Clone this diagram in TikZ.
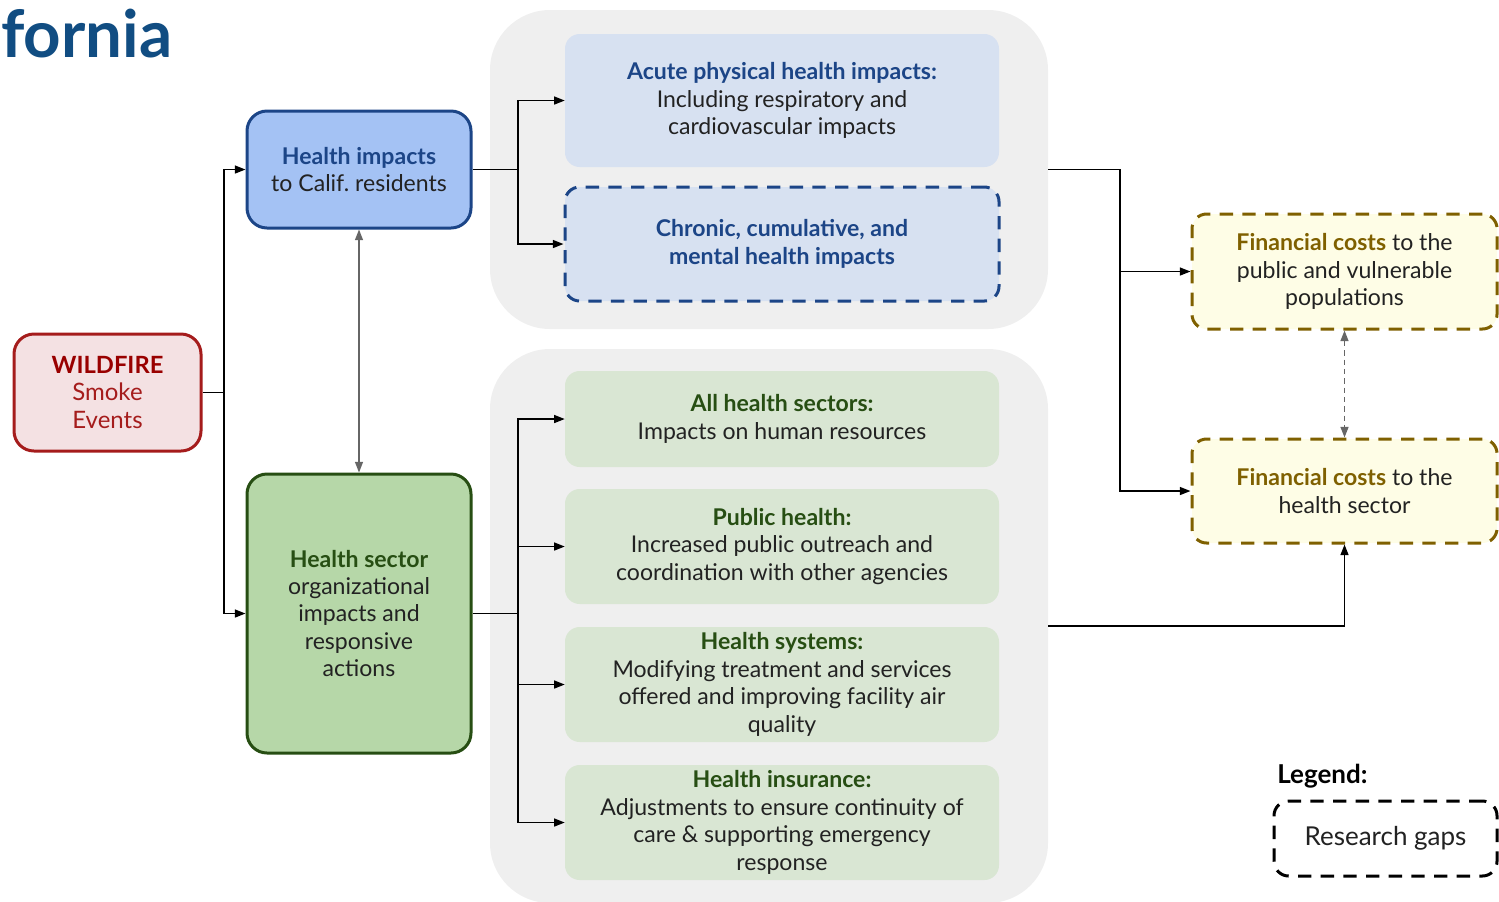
\documentclass[tikz,border=0pt]{standalone}
\usepackage{fontspec}
\setmainfont{Lato}
\usetikzlibrary{arrows.meta}

\definecolor{titleblue}{HTML}{114D82}
\definecolor{wffill}{HTML}{F4E1E3}
\definecolor{wfline}{HTML}{A51C1C}
\definecolor{wfdark}{HTML}{990000}
\definecolor{blfill}{HTML}{A4C2F4}
\definecolor{blline}{HTML}{1C4587}
\definecolor{blsoft}{HTML}{D7E1F1}
\definecolor{grfill}{HTML}{B6D7A8}
\definecolor{grline}{HTML}{274E13}
\definecolor{grsoft}{HTML}{D9E6D3}
\definecolor{yefill}{HTML}{FEFDE6}
\definecolor{yeline}{HTML}{7F6000}
\definecolor{groupbg}{HTML}{EFEFEF}
\definecolor{bodytext}{HTML}{222222}
\definecolor{twoway}{HTML}{666666}

\begin{document}
\begin{tikzpicture}[x=0.75pt,y=-0.75pt,
  every node/.style={inner sep=0pt},
  box/.style={rounded corners=11pt, align=center, text=bodytext,
    font=\fontsize{17.3}{20.6}\selectfont},
  mainbox/.style={box, rounded corners=15pt, line width=2.25pt},
  gapbox/.style={line width=2.25pt, dash pattern=on 10pt off 7pt},
  group/.style={fill=groupbg, rounded corners=45pt},
  link/.style={line width=1.1pt, -{Triangle[length=8pt,width=6pt]}},
  twolink/.style={line width=1pt, draw=twoway,
    {Triangle[length=8pt,width=6pt]}-{Triangle[length=8pt,width=6pt]}}]

\useasboundingbox (0,0) rectangle (1499,901);
\clip (0,0) rectangle (1499,901);

% title fragment
\node[anchor=base west, text=titleblue,
  font=\fontsize{49}{49}\selectfont\bfseries] (title) at (1,57) {fornia};

% grey groups behind the outcome boxes
\node[group, minimum width=418.5pt, minimum height=239.25pt] (gtop) at (769,169.5) {};
\node[group, minimum width=418.5pt, minimum height=415.5pt] (gbot) at (769,626) {};

% source
\node[mainbox, draw=wfline, fill=wffill, minimum width=140.25pt, minimum height=87.75pt]
  (wild) at (107.5,392.5)
  {{\fontsize{17.8}{20.6}\selectfont\bfseries\color{wfdark}WILDFIRE}\\
   {\fontsize{18}{20.6}\selectfont\color{wfline}Smoke}\\{\fontsize{18}{20.6}\selectfont\color{wfline}Events}};

% first-order impacts
\node[mainbox, draw=blline, fill=blfill, minimum width=168pt, minimum height=87.75pt]
  (himp) at (359,169.5)
  {{\bfseries\color{blline}Health impacts}\\to Calif.\ residents};
\node[mainbox, draw=grline, fill=grfill, minimum width=168pt, minimum height=209.25pt]
  (hsec) at (359,613.5)
  {{\bfseries\color{grline}Health sector}\\organizational\\impacts and\\responsive\\actions};

% health impact detail
\node[box, fill=blsoft, minimum width=325.5pt, minimum height=99.75pt]
  (acute) at (782,100.5)
  {{\bfseries\color{blline}Acute physical health impacts:}\\Including respiratory and\\cardiovascular impacts};
\node[box, gapbox, draw=blline, fill=blsoft, minimum width=325.5pt, minimum height=85.5pt]
  (chronic) at (782,244)
  {\bfseries\color{blline}Chronic, cumulative, and\\\bfseries\color{blline}mental health impacts};

% health sector detail
\node[box, fill=grsoft, minimum width=325.5pt, minimum height=72pt]
  (allhs) at (782,419)
  {{\bfseries\color{grline}All health sectors:}\\Impacts on human resources};
\node[box, fill=grsoft, minimum width=325.5pt, minimum height=86.25pt]
  (pubh) at (782,546.5)
  {{\bfseries\color{grline}Public health:}\\Increased public outreach and\\coordination with other agencies};
\node[box, fill=grsoft, minimum width=325.5pt, minimum height=86.25pt]
  (hsys) at (782,684.5)
  {{\bfseries\color{grline}Health systems:}\\Modifying treatment and services\\offered and improving facility air\\quality};
\node[box, fill=grsoft, minimum width=325.5pt, minimum height=86.25pt]
  (hins) at (782,822.5)
  {{\bfseries\color{grline}Health insurance:}\\Adjustments to ensure continuity of\\care \& supporting emergency\\response};

% financial costs
\node[box, gapbox, draw=yeline, fill=yefill, minimum width=228.75pt, minimum height=86.25pt]
  (fin1) at (1344.5,271.5)
  {{\bfseries\color{yeline}Financial costs} to the\\public and vulnerable\\populations};
\node[box, gapbox, draw=yeline, fill=yefill, minimum width=228.75pt, minimum height=78pt]
  (fin2) at (1344.5,491)
  {{\bfseries\color{yeline}Financial costs} to the\\health sector};

% legend
\node[anchor=west, font=\fontsize{19.5}{20}\selectfont\bfseries] (legtitle) at (1277,776) {Legend:};
\node[box, gapbox, draw=black, fill=white, minimum width=167.25pt, minimum height=56.25pt,
  font=\fontsize{19.5}{20}\selectfont] (leggap) at (1385.5,838.5) {Research gaps};

% connectors
\coordinate (wj) at (224,392.5);
\draw[link] (wild.east) -- (wj) |- (himp.west);
\draw[link] (wj) |- (hsec.west);

\coordinate (hj) at (518,169.5);
\draw[link] (himp.east) -- (hj) |- (acute.west);
\draw[link] (hj) |- (chronic.west);

\coordinate (sj) at (518,613.5);
\draw[line width=1.1pt] (hsec.east) -- (sj);
\draw[link] (sj) |- (allhs.west);
\draw[link] (sj) |- (pubh.west);
\draw[link] (sj) |- (hsys.west);
\draw[link] (sj) |- (hins.west);

\coordinate (tj) at (1120,169.5);
\draw[link] (gtop.east) -- (tj) |- (fin1.west);
\draw[link] (tj) |- (fin2.west);
\draw[link] (gbot.east) -| (fin2.south);

\draw[twolink] (himp.south) -- (hsec.north);
\draw[twolink, dash pattern=on 4pt off 3pt] (fin1.south) -- (fin2.north);

\end{tikzpicture}
\end{document}
